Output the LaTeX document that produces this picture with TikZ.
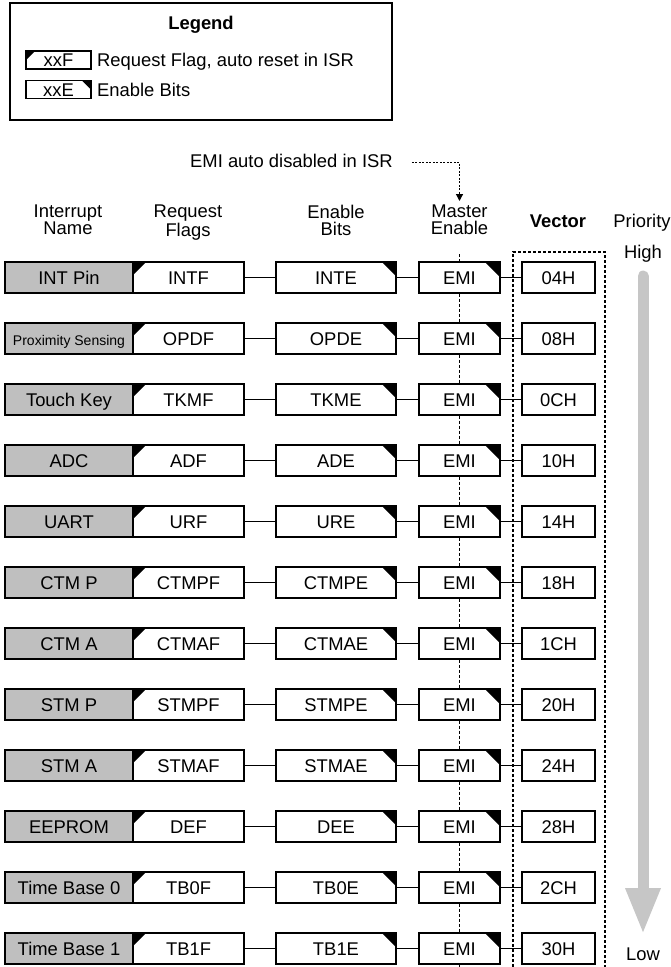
\documentclass[tikz,border=0pt]{standalone}
\usepackage{fontspec}
\setmainfont{Liberation Sans}
\usetikzlibrary{calc,arrows.meta}

\begin{document}
\begin{tikzpicture}[x=1pt,y=-1pt,
   every node/.style={inner sep=0pt,font=\fontsize{18.4}{17}\selectfont},
   box/.style={draw,line width=1.3pt,fill=white,minimum height=31pt,text height=13pt,text depth=0pt},
   fcorner/.style={path picture={\fill[black] (path picture bounding box.north west) -- ++(#1,0pt) -- ++(-#1,-#1) -- cycle;}},
   ecorner/.style={path picture={\fill[black] (path picture bounding box.north east) -- ++(-#1,0pt) -- ++(#1,-#1) -- cycle;}},
   namebox/.style={box,fill=gray!50,minimum width=128pt},
   flagbox/.style={box,fcorner=13pt,minimum width=111pt},
   enbox/.style={box,ecorner=14pt,minimum width=120pt},
   emibox/.style={box,ecorner=15pt,minimum width=81pt},
   vecbox/.style={box,minimum width=73pt},
   hdr/.style={align=center,anchor=north},
   wire/.style={line width=1.3pt},
   busline/.style={line width=1.2pt,dash pattern=on 3pt off 2pt},
   isrline/.style={line width=1.2pt,dash pattern=on 2pt off 1.5pt,-{Triangle[length=7pt,width=7pt]}},
   priobar/.style={line width=11pt,line cap=round,gray!45}]
   \useasboundingbox (0,0) rectangle (671,967);

   % legend
   \draw[line width=1.3pt] (10,3) rectangle (392,120);
   \node[anchor=base,font=\fontsize{18.4}{17}\selectfont\bfseries] (legend) at (201,29.5) {Legend};
   \node[box,fcorner=9pt,minimum width=65pt,minimum height=18pt] (legf) at (58.5,60) {xxF};
   \node[anchor=base west] (legftxt) at (97,66) {Request Flag, auto reset in ISR};
   \node[box,ecorner=9pt,minimum width=65pt,minimum height=18pt] (lege) at (58.5,89.5) {xxE};
   \node[anchor=base west] (legetxt) at (97,96) {Enable Bits};

   % column headers
   \node[anchor=base west] (isr) at (190,167.5) {EMI auto disabled in ISR};
   \node[hdr] (hname) at (68,205) {Interrupt\\Name};
   \node[hdr] (hflag) at (188,205) {Request\\Flags};
   \node[hdr] (hen) at (336,205) {Enable\\Bits};
   \node[hdr] (hme) at (459.5,205) {Master\\Enable};
   \node[anchor=base,font=\fontsize{18.4}{17}\selectfont\bfseries] (hvec) at (558,227.5) {Vector};
   \node[anchor=base] (hprio) at (642,227.5) {Priority};
   \draw[isrline] ([xshift=19pt,yshift=5pt]isr.base east) -| ([yshift=4pt]hme.north);

   % interrupt rows
   \node[namebox] (n0) at ($(69,277.5)+0*(0,61)$) {INT Pin};
   \node[flagbox] (rf0) at ($(188.5,277.5)+0*(0,61)$) {INTF};
   \node[enbox] (en0) at ($(336,277.5)+0*(0,61)$) {INTE};
   \node[emibox] (emi0) at ($(459.5,277.5)+0*(0,61)$) {EMI};
   \node[vecbox] (vec0) at ($(558.5,277.5)+0*(0,61)$) {04H};

   \node[namebox,font=\fontsize{14}{16}\selectfont] (n1) at ($(69,277.5)+1*(0,61)$) {Proximity Sensing};
   \node[flagbox] (rf1) at ($(188.5,277.5)+1*(0,61)$) {OPDF};
   \node[enbox] (en1) at ($(336,277.5)+1*(0,61)$) {OPDE};
   \node[emibox] (emi1) at ($(459.5,277.5)+1*(0,61)$) {EMI};
   \node[vecbox] (vec1) at ($(558.5,277.5)+1*(0,61)$) {08H};

   \node[namebox] (n2) at ($(69,277.5)+2*(0,61)$) {Touch Key};
   \node[flagbox] (rf2) at ($(188.5,277.5)+2*(0,61)$) {TKMF};
   \node[enbox] (en2) at ($(336,277.5)+2*(0,61)$) {TKME};
   \node[emibox] (emi2) at ($(459.5,277.5)+2*(0,61)$) {EMI};
   \node[vecbox] (vec2) at ($(558.5,277.5)+2*(0,61)$) {0CH};

   \node[namebox] (n3) at ($(69,277.5)+3*(0,61)$) {ADC};
   \node[flagbox] (rf3) at ($(188.5,277.5)+3*(0,61)$) {ADF};
   \node[enbox] (en3) at ($(336,277.5)+3*(0,61)$) {ADE};
   \node[emibox] (emi3) at ($(459.5,277.5)+3*(0,61)$) {EMI};
   \node[vecbox] (vec3) at ($(558.5,277.5)+3*(0,61)$) {10H};

   \node[namebox] (n4) at ($(69,277.5)+4*(0,61)$) {UART};
   \node[flagbox] (rf4) at ($(188.5,277.5)+4*(0,61)$) {URF};
   \node[enbox] (en4) at ($(336,277.5)+4*(0,61)$) {URE};
   \node[emibox] (emi4) at ($(459.5,277.5)+4*(0,61)$) {EMI};
   \node[vecbox] (vec4) at ($(558.5,277.5)+4*(0,61)$) {14H};

   \node[namebox] (n5) at ($(69,277.5)+5*(0,61)$) {CTM P};
   \node[flagbox] (rf5) at ($(188.5,277.5)+5*(0,61)$) {CTMPF};
   \node[enbox] (en5) at ($(336,277.5)+5*(0,61)$) {CTMPE};
   \node[emibox] (emi5) at ($(459.5,277.5)+5*(0,61)$) {EMI};
   \node[vecbox] (vec5) at ($(558.5,277.5)+5*(0,61)$) {18H};

   \node[namebox] (n6) at ($(69,277.5)+6*(0,61)$) {CTM A};
   \node[flagbox] (rf6) at ($(188.5,277.5)+6*(0,61)$) {CTMAF};
   \node[enbox] (en6) at ($(336,277.5)+6*(0,61)$) {CTMAE};
   \node[emibox] (emi6) at ($(459.5,277.5)+6*(0,61)$) {EMI};
   \node[vecbox] (vec6) at ($(558.5,277.5)+6*(0,61)$) {1CH};

   \node[namebox] (n7) at ($(69,277.5)+7*(0,61)$) {STM P};
   \node[flagbox] (rf7) at ($(188.5,277.5)+7*(0,61)$) {STMPF};
   \node[enbox] (en7) at ($(336,277.5)+7*(0,61)$) {STMPE};
   \node[emibox] (emi7) at ($(459.5,277.5)+7*(0,61)$) {EMI};
   \node[vecbox] (vec7) at ($(558.5,277.5)+7*(0,61)$) {20H};

   \node[namebox] (n8) at ($(69,277.5)+8*(0,61)$) {STM A};
   \node[flagbox] (rf8) at ($(188.5,277.5)+8*(0,61)$) {STMAF};
   \node[enbox] (en8) at ($(336,277.5)+8*(0,61)$) {STMAE};
   \node[emibox] (emi8) at ($(459.5,277.5)+8*(0,61)$) {EMI};
   \node[vecbox] (vec8) at ($(558.5,277.5)+8*(0,61)$) {24H};

   \node[namebox] (n9) at ($(69,277.5)+9*(0,61)$) {EEPROM};
   \node[flagbox] (rf9) at ($(188.5,277.5)+9*(0,61)$) {DEF};
   \node[enbox] (en9) at ($(336,277.5)+9*(0,61)$) {DEE};
   \node[emibox] (emi9) at ($(459.5,277.5)+9*(0,61)$) {EMI};
   \node[vecbox] (vec9) at ($(558.5,277.5)+9*(0,61)$) {28H};

   \node[namebox] (n10) at ($(69,277.5)+10*(0,61)$) {Time Base 0};
   \node[flagbox] (rf10) at ($(188.5,277.5)+10*(0,61)$) {TB0F};
   \node[enbox] (en10) at ($(336,277.5)+10*(0,61)$) {TB0E};
   \node[emibox] (emi10) at ($(459.5,277.5)+10*(0,61)$) {EMI};
   \node[vecbox] (vec10) at ($(558.5,277.5)+10*(0,61)$) {2CH};

   \node[namebox] (n11) at ($(69,277.5)+11*(0,61)$) {Time Base 1};
   \node[flagbox] (rf11) at ($(188.5,277.5)+11*(0,61)$) {TB1F};
   \node[enbox] (en11) at ($(336,277.5)+11*(0,61)$) {TB1E};
   \node[emibox] (emi11) at ($(459.5,277.5)+11*(0,61)$) {EMI};
   \node[vecbox] (vec11) at ($(558.5,277.5)+11*(0,61)$) {30H};

   % wires
   \draw[wire] (rf0) -- (en0) (en0) -- (emi0) (emi0) -- (vec0);
   \draw[wire] (rf1) -- (en1) (en1) -- (emi1) (emi1) -- (vec1);
   \draw[wire] (rf2) -- (en2) (en2) -- (emi2) (emi2) -- (vec2);
   \draw[wire] (rf3) -- (en3) (en3) -- (emi3) (emi3) -- (vec3);
   \draw[wire] (rf4) -- (en4) (en4) -- (emi4) (emi4) -- (vec4);
   \draw[wire] (rf5) -- (en5) (en5) -- (emi5) (emi5) -- (vec5);
   \draw[wire] (rf6) -- (en6) (en6) -- (emi6) (emi6) -- (vec6);
   \draw[wire] (rf7) -- (en7) (en7) -- (emi7) (emi7) -- (vec7);
   \draw[wire] (rf8) -- (en8) (en8) -- (emi8) (emi8) -- (vec8);
   \draw[wire] (rf9) -- (en9) (en9) -- (emi9) (emi9) -- (vec9);
   \draw[wire] (rf10) -- (en10) (en10) -- (emi10) (emi10) -- (vec10);
   \draw[wire] (rf11) -- (en11) (en11) -- (emi11) (emi11) -- (vec11);

   % EMI bus and vector column
   \draw[busline] ([yshift=7pt]emi0.north) -- (emi0.north) (emi0) -- (emi1) (emi1) -- (emi2)
      (emi2) -- (emi3) (emi3) -- (emi4) (emi4) -- (emi5) (emi5) -- (emi6) (emi6) -- (emi7)
      (emi7) -- (emi8) (emi8) -- (emi9) (emi9) -- (emi10) (emi10) -- (emi11)
      (emi11.south) -- ([yshift=-3pt]emi11.south);
   \draw[busline] (513,967) -- (513,252) -- (605,252) -- (605,967);

   % priority
   \node[anchor=base] (high) at (643,258) {High};
   \node[anchor=base] (low) at (643,960) {Low};
   \coordinate (ptop) at ([yshift=-14pt]high.south);
   \coordinate (ptip) at ([yshift=15pt]low.north);
   \draw[priobar] (ptop) -- ([yshift=42pt]ptip);
   \fill[gray!45] (ptip) -- ++(-18,-44) -- ++(36,0) -- cycle;
\end{tikzpicture}
\end{document}
